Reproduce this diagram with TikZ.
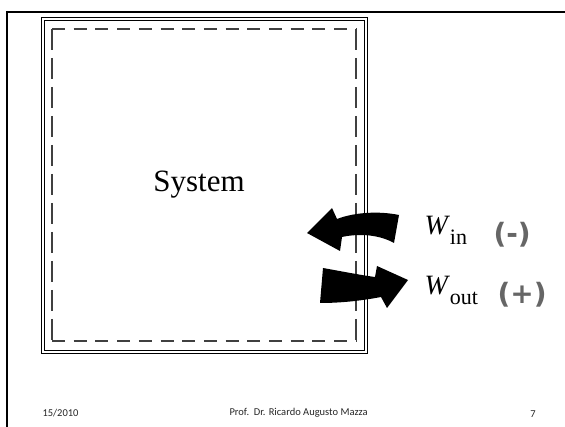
\documentclass[tikz,border=0pt]{standalone}
\usepackage{fontspec}
\setmainfont{Liberation Serif}
\newfontfamily\footfont{Carlito}
\newfontfamily\signfont{DejaVu Sans}
\usepackage{tikz}

\begin{document}
\begin{tikzpicture}[x=1pt,y=-1pt,
  frame/.style={line width=2.4pt},
  bound/.style={line width=0.8pt},
  cvh/.style={dash pattern=on 13pt off 8.7pt,line width=1.3pt,black!75},
  cvv/.style={dash pattern=on 21pt off 8pt,line width=1.3pt,black!75},
  work/.style={fill=black},
  sym/.style={anchor=base west,font=\fontsize{28}{28}\selectfont},
  sign/.style={anchor=west,text=black!60,font=\signfont\bfseries\fontsize{28}{28}\selectfont},
  foot/.style={font=\footfont\fontsize{10.5}{11}\selectfont,text=black!85}
]
  \useasboundingbox (0,0) rectangle (565,427);
  % slide frame
  \draw[frame] (6,12) -- (565,12);
  \draw[frame] (7,11) -- (7,427);

  % system boundary (double line) and control surface
  \draw[bound] (41,17) rectangle (367,353);
  \draw[bound] (44,20) rectangle (364,350);
  \draw[cvh] (52,29) -- (356,29);
  \draw[cvh] (52,341) -- (356,341);
  \draw[cvv] (52,29) -- (52,341);
  \draw[cvv] (356,29) -- (356,341);
  \node[anchor=base,font=\fontsize{31}{31}\selectfont] (sys) at (199,192) {System};

  % work crossing the boundary
  \fill[work] (307,233) -- (332,208) -- (337,219)
    .. controls (355,212) and (380,211) .. (399,215) -- (394,243)
    .. controls (380,235) and (360,233) .. (342,237) -- (340,251) -- cycle;
  \fill[work] (323,268) .. controls (340,271) and (360,275) .. (375,277)
    -- (377,266) -- (408,280) -- (387,308) -- (381,297)
    .. controls (360,301) and (340,303) .. (320,303) -- cycle;

  \node[sym] (win)  at (421,235) {\textit{W}\raisebox{-10pt}{\fontsize{22}{22}\selectfont in}};
  \node[sym] (wout) at (421,295) {\textit{W}\raisebox{-10pt}{\fontsize{22}{22}\selectfont out}};
  \node[sign] (neg) at (490,234.5) {(-)};
  \node[sign] (pos) at (494,295) {(+)};

  % footer
  \node[foot,anchor=west] (date)   at (39,413)  {15/2010};
  \node[foot,anchor=west] (author) at (226,413) {Prof.\ \ Dr. Ricardo Augusto Mazza};
  \node[foot] (page) at (533,414) {7};
\end{tikzpicture}
\end{document}
